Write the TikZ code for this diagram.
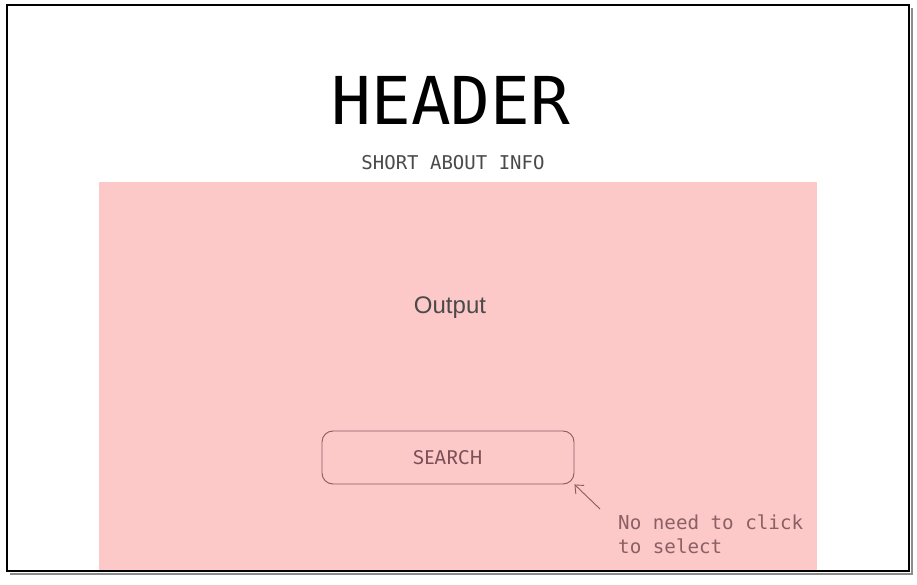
\documentclass[tikz,border=0pt]{standalone}
\usepackage{fontspec}
\setmainfont{Liberation Sans}
\newfontfamily\monofont{DejaVu Sans Mono}
\newfontfamily\searchfont{Fira Sans}
\usetikzlibrary{arrows.meta}
\definecolor{pinkfill}{HTML}{FCC8C8}
\definecolor{btnline}{HTML}{8A5A60}
\definecolor{notecol}{HTML}{8B6063}
\definecolor{graytext}{HTML}{4A4A4A}
\tikzset{
  frame/.style={draw=black, line width=1.4pt},
  shadowline/.style={draw=black!45, line width=1.2pt},
  panel/.style={fill=pinkfill, draw=none},
  btn/.style={draw=btnline, line width=0.9pt, rounded corners=11pt, fill=pinkfill},
  note/.style={text=notecol, font=\monofont\fontsize{19.2}{24}\selectfont, align=left, anchor=north west, inner sep=0pt},
}
\begin{document}
\begin{tikzpicture}[x=1pt,y=-1pt]
\useasboundingbox (0,0) rectangle (917,585);
\fill[white] (0,0) rectangle (917,585);
% pink panel
\node[panel, minimum width=718pt, minimum height=389pt, inner sep=0pt, anchor=north west] (panel) at (99,182) {};
% outer frame with shadow
\draw[shadowline] (10,574) -- (912,574) -- (912,8);
\draw[frame] (7,5) rectangle (909,571);
% texts
\node[font=\monofont\fontsize{66}{66}\selectfont, text=black] (header) at (451,100) {HEADER};
\node[font=\monofont\fontsize{19}{19}\selectfont, text=graytext] (info) at (453,163) {SHORT ABOUT INFO};
\node[font=\fontsize{24}{24}\selectfont, text=graytext] (output) at (450,308) {Output};
\node[btn, minimum width=252pt, minimum height=53pt, font=\searchfont\fontsize{20}{20}\selectfont, text=btnline!90!black] (search) at (448,457.5) {SEARCH};
\node[note] (notetext) at (618,514.5) {No need to click\\to select};
\coordinate (arrowstart) at (600,509);
\draw[btnline, line width=0.9pt, -{Straight Barb[length=7pt,width=12pt]}] (arrowstart) -- (search.south east);
\end{tikzpicture}
\end{document}
